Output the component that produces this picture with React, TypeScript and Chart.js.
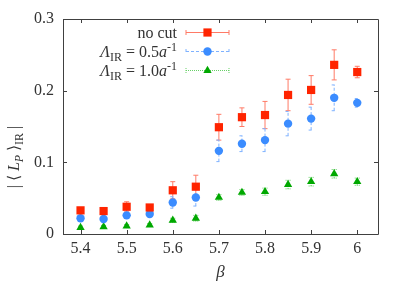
import React, { useEffect, useRef } from "react";
import { Chart, registerables } from "chart.js";

Chart.register(...registerables);

const beta = [5.4, 5.45, 5.5, 5.55, 5.6, 5.65, 5.7, 5.75, 5.8, 5.85, 5.9, 5.95, 6.0];
const noCut = [0.033, 0.032, 0.038, 0.037, 0.061, 0.066, 0.149, 0.163, 0.166, 0.194, 0.201, 0.236, 0.226];
const noCutErr = [0.004, 0.003, 0.007, 0.004, 0.012, 0.016, 0.018, 0.013, 0.019, 0.022, 0.020, 0.021, 0.008];
const ir05 = [0.022, 0.021, 0.026, 0.028, 0.044, 0.051, 0.116, 0.126, 0.131, 0.154, 0.161, 0.190, 0.183];
const ir05Err = [0.002, 0.002, 0.003, 0.003, 0.008, 0.012, 0.015, 0.011, 0.016, 0.017, 0.016, 0.018, 0.006];
const ir10 = [0.009, 0.010, 0.011, 0.0125, 0.019, 0.022, 0.051, 0.058, 0.059, 0.069, 0.073, 0.084, 0.073];
const ir10Err = [0.002, 0.002, 0.002, 0.002, 0.003, 0.004, 0.004, 0.004, 0.005, 0.006, 0.006, 0.006, 0.005];

const xTicks = [5.4, 5.5, 5.6, 5.7, 5.8, 5.9, 6.0];
const xTickLabels = ["5.4", "5.5", "5.6", "5.7", "5.8", "5.9", "6"];
const yTicks = [0, 0.1, 0.2, 0.3];
const yTickLabels = ["0", "0.1", "0.2", "0.3"];

const FONT = '"Liberation Serif", "Times New Roman", serif';
const RED = "#ff2400";
const RED_ERR = "#ff7a66";
const BLUE = "#3b8cff";
const BLUE_ERR = "#7fb2ff";
const GREEN = "#00a800";
const GREEN_ERR = "#66d066";
const AXIS = "#404040";
const TEXT = "#333333";

type Piece = { t: string; italic?: boolean; sub?: boolean; sup?: boolean };

function pieceFont(p: Piece) {
  const size = p.sub || p.sup ? 12 : 16;
  return `${p.italic ? "italic " : ""}${size}px ${FONT}`;
}

function richWidth(ctx: CanvasRenderingContext2D, pieces: Piece[]) {
  let w = 0;
  for (const p of pieces) {
    ctx.font = pieceFont(p);
    w += ctx.measureText(p.t).width;
  }
  return w;
}

function drawRich(ctx: CanvasRenderingContext2D, pieces: Piece[], x: number, y: number) {
  let cx = x;
  ctx.textBaseline = "alphabetic";
  ctx.textAlign = "left";
  for (const p of pieces) {
    ctx.font = pieceFont(p);
    const dy = p.sub ? 4 : p.sup ? -6 : 0;
    ctx.fillText(p.t, cx, y + dy);
    cx += ctx.measureText(p.t).width;
  }
}

const errorBarPlugin = {
  id: "errorBars",
  beforeDatasetsDraw(chart: any) {
    const ctx = chart.ctx as CanvasRenderingContext2D;
    const ys = chart.scales.y;
    chart.data.datasets.forEach((ds: any, i: number) => {
      const meta = chart.getDatasetMeta(i);
      ctx.save();
      ctx.strokeStyle = ds.errColor;
      ctx.lineWidth = 1;
      ctx.setLineDash(ds.errDash);
      meta.data.forEach((pt: any, j: number) => {
        const v = ds.data[j].y;
        const e = ds.errs[j];
        const x = pt.x;
        const y1 = ys.getPixelForValue(v - e);
        const y2 = ys.getPixelForValue(v + e);
        ctx.beginPath();
        ctx.moveTo(x, y1);
        ctx.lineTo(x, y2);
        ctx.moveTo(x - 2.5, y1);
        ctx.lineTo(x + 2.5, y1);
        ctx.moveTo(x - 2.5, y2);
        ctx.lineTo(x + 2.5, y2);
        ctx.stroke();
      });
      ctx.restore();
    });
  },
};

const framePlugin = {
  id: "frame",
  afterDraw(chart: any) {
    const ctx = chart.ctx as CanvasRenderingContext2D;
    const { left, right, top, bottom } = chart.chartArea;
    const xs = chart.scales.x;
    const ys = chart.scales.y;
    ctx.save();
    ctx.strokeStyle = AXIS;
    ctx.lineWidth = 1;
    ctx.beginPath();
    ctx.rect(Math.round(left) + 0.5, Math.round(top) + 0.5, Math.round(right - left), Math.round(bottom - top));
    const tl = 4;
    xTicks.forEach((v) => {
      const x = Math.round(xs.getPixelForValue(v)) + 0.5;
      ctx.moveTo(x, bottom);
      ctx.lineTo(x, bottom - tl);
      ctx.moveTo(x, top);
      ctx.lineTo(x, top + tl);
    });
    yTicks.forEach((v) => {
      const y = Math.round(ys.getPixelForValue(v)) + 0.5;
      ctx.moveTo(left, y);
      ctx.lineTo(left + tl, y);
      ctx.moveTo(right, y);
      ctx.lineTo(right - tl, y);
    });
    ctx.stroke();
    ctx.restore();

    // axis titles
    ctx.save();
    ctx.fillStyle = TEXT;
    ctx.font = `italic 17px ${FONT}`;
    ctx.textAlign = "center";
    ctx.textBaseline = "middle";
    ctx.fillText("β", (left + right) / 2, 273);
    ctx.restore();

    const yl: Piece[] = [
      { t: "| ⟨ " },
      { t: "L", italic: true },
      { t: "P", italic: true, sub: true },
      { t: " ⟩" },
      { t: "IR", sub: true },
      { t: " |" },
    ];
    ctx.save();
    ctx.fillStyle = TEXT;
    const w = richWidth(ctx, yl);
    ctx.translate(19, 157);
    ctx.rotate(-Math.PI / 2);
    drawRich(ctx, yl, -w / 2, 0);
    ctx.restore();

    // legend
    const rows: { pieces: Piece[]; ds: number }[] = [
      { pieces: [{ t: "no cut" }], ds: 0 },
      {
        pieces: [
          { t: "Λ", italic: true },
          { t: "IR", sub: true },
          { t: " = 0.5" },
          { t: "a", italic: true },
          { t: "-1", sup: true },
        ],
        ds: 1,
      },
      {
        pieces: [
          { t: "Λ", italic: true },
          { t: "IR", sub: true },
          { t: " = 1.0" },
          { t: "a", italic: true },
          { t: "-1", sup: true },
        ],
        ds: 2,
      },
    ];
    const rowY = [32.5, 51.5, 70.5];
    rows.forEach((r, i) => {
      const y = rowY[i];
      const ds = chart.data.datasets[r.ds];
      ctx.save();
      ctx.fillStyle = TEXT;
      const tw = richWidth(ctx, r.pieces);
      drawRich(ctx, r.pieces, 177 - tw, y + 5);
      ctx.strokeStyle = ds.errColor;
      ctx.lineWidth = 1;
      ctx.setLineDash(ds.errDash);
      ctx.beginPath();
      ctx.moveTo(186, y);
      ctx.lineTo(229, y);
      ctx.moveTo(186, y - 2.5);
      ctx.lineTo(186, y + 2.5);
      ctx.moveTo(229, y - 2.5);
      ctx.lineTo(229, y + 2.5);
      ctx.stroke();
      ctx.setLineDash([]);
      ctx.fillStyle = ds.pointBackgroundColor;
      const r0 = ds.pointRadius;
      ctx.beginPath();
      if (ds.pointStyle === "rect") {
        const s = r0 * Math.SQRT1_2;
        ctx.rect(207.5 - s, y - s, 2 * s, 2 * s);
      } else if (ds.pointStyle === "circle") {
        ctx.arc(207.5, y, r0, 0, Math.PI * 2);
      } else {
        const cx = 207.5;
        ctx.moveTo(cx, y - r0);
        ctx.lineTo(cx + r0 * Math.sin((2 * Math.PI) / 3), y - r0 * Math.cos((2 * Math.PI) / 3));
        ctx.lineTo(cx - r0 * Math.sin((2 * Math.PI) / 3), y - r0 * Math.cos((2 * Math.PI) / 3));
        ctx.closePath();
      }
      ctx.fill();
      ctx.restore();
    });
  },
};

export default function App() {
  const ref = useRef<HTMLCanvasElement>(null);
  useEffect(() => {
    if (!ref.current) return;
    const mk = (vals: number[]) => beta.map((b, i) => ({ x: b, y: vals[i] }));
    const chart = new Chart(ref.current, {
      type: "scatter",
      data: {
        datasets: [
          {
            label: "no cut",
            data: mk(noCut),
            pointStyle: "rect",
            pointRadius: 5.8,
            pointBackgroundColor: RED,
            pointBorderWidth: 0,
            errs: noCutErr,
            errColor: RED_ERR,
            errDash: [],
          } as any,
          {
            label: "IR 0.5",
            data: mk(ir05),
            pointStyle: "circle",
            pointRadius: 4.2,
            pointBackgroundColor: BLUE,
            pointBorderWidth: 0,
            errs: ir05Err,
            errColor: BLUE_ERR,
            errDash: [3, 2],
          } as any,
          {
            label: "IR 1.0",
            data: mk(ir10),
            pointStyle: "triangle",
            pointRadius: 4.8,
            pointBackgroundColor: GREEN,
            pointBorderWidth: 0,
            errs: ir10Err,
            errColor: GREEN_ERR,
            errDash: [1, 1],
          } as any,
        ],
      },
      options: {
        animation: false,
        responsive: false,
        layout: { padding: { left: 0, right: 29, top: 19, bottom: 0 } },
        plugins: { legend: { display: false }, tooltip: { enabled: false } },
        scales: {
          x: {
            type: "linear",
            min: 5.362,
            max: 6.045,
            grid: { display: false, drawTicks: false },
            border: { display: false },
            afterBuildTicks: (s: any) => {
              s.ticks = xTicks.map((v) => ({ value: v }));
            },
            afterFit: (s: any) => {
              s.height = 51;
            },
            ticks: {
              padding: 5,
              color: TEXT,
              font: { family: FONT, size: 16 },
              maxRotation: 0,
              callback: (v: any) => {
                const i = xTicks.findIndex((t) => Math.abs(t - v) < 1e-6);
                return i >= 0 ? xTickLabels[i] : "";
              },
            },
          },
          y: {
            min: 0,
            max: 0.3,
            grid: { display: false, drawTicks: false },
            border: { display: false },
            afterBuildTicks: (s: any) => {
              s.ticks = yTicks.map((v) => ({ value: v }));
            },
            afterFit: (s: any) => {
              s.width = 63;
            },
            ticks: {
              padding: 9,
              color: TEXT,
              font: { family: FONT, size: 16 },
              callback: (v: any) => {
                const i = yTicks.findIndex((t) => Math.abs(t - v) < 1e-6);
                return i >= 0 ? yTickLabels[i] : "";
              },
            },
          },
        },
      },
      plugins: [errorBarPlugin, framePlugin],
    });
    return () => chart.destroy();
  }, []);
  return (
    <div style={{ position: "absolute", left: 0, top: 0, width: 407, height: 285, background: "#fff" }}>
      <canvas ref={ref} width={407} height={285} />
    </div>
  );
}
